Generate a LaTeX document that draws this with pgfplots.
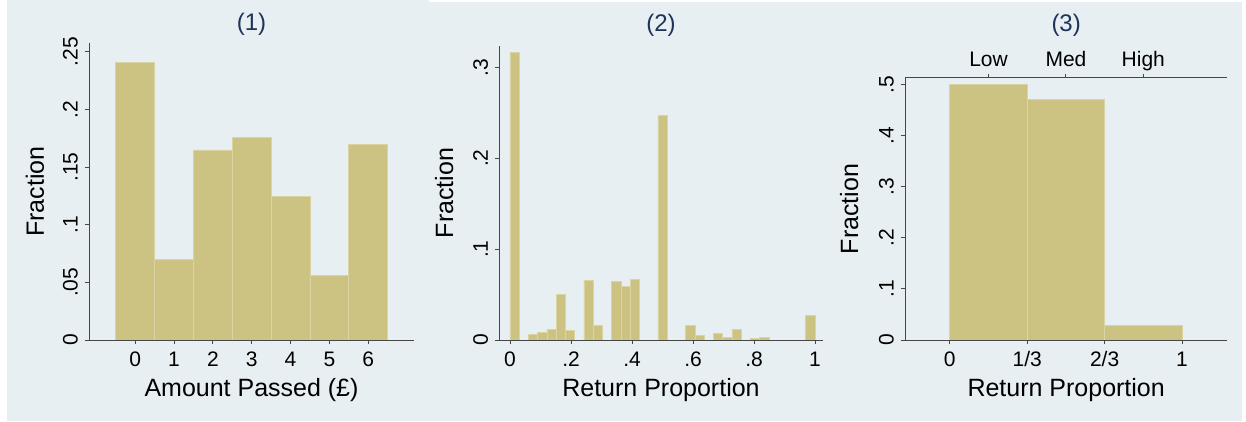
\documentclass[border=0pt]{standalone}
\usepackage{fontspec}
\setmainfont{Liberation Sans}
\usepackage{pgfplots}
\pgfplotsset{compat=1.18}
\definecolor{bgc}{RGB}{232,239,242}
\definecolor{barc}{RGB}{204,195,131}
\definecolor{baredge}{RGB}{218,211,164}
\definecolor{axisc}{RGB}{70,70,70}
\definecolor{gridc}{RGB}{234,239,241}
\definecolor{titc}{RGB}{30,52,90}

\pgfplotsset{
 layers/statalayers/.define layer set={axis background,axis grid,main,axis ticks,axis lines,axis tick labels,axis descriptions,axis foreground}{
    grid style={/pgfplots/on layer=axis grid},
    tick style={/pgfplots/on layer=axis ticks},
    axis line style={/pgfplots/on layer=axis lines},
    label style={/pgfplots/on layer=axis descriptions},
    legend style={/pgfplots/on layer=axis descriptions},
    title style={/pgfplots/on layer=axis descriptions},
    colorbar style={/pgfplots/on layer=axis descriptions},
    ticklabel style={/pgfplots/on layer=axis tick labels},
    axis background@ style={/pgfplots/on layer=axis background},
    3d box foreground style={/pgfplots/on layer=axis foreground},
 },
 stata/.style={
  set layers=statalayers,
  scale only axis,
  anchor=south west,
  axis background/.style={fill=white},
  axis x line*=bottom, axis y line*=left,
  axis line style={draw=axisc, line width=0.9bp, -},
  tick style={draw=axisc, line width=0.9bp},
  tick align=outside,
  major tick length=4bp,
  minor tick num=0,
  ymajorgrids,
  major grid style={draw=gridc, line width=0.9bp},
  ymin=0,
  ticklabel style={font=\fontsize{21bp}{25bp}\selectfont, inner sep=0pt},
  xticklabel style={anchor=base},
  yticklabel style={rotate=90, anchor=base},
  xticklabel shift=22bp,
  yticklabel shift=7.5bp,
  label style={font=\fontsize{25bp}{30bp}\selectfont},
  title style={font=\fontsize{24bp}{28bp}\selectfont, text=titc, anchor=center},
  xlabel style={anchor=center},
  ylabel style={anchor=center},
  ybar, bar shift=0pt,
 },
 bars/.style={fill=barc, draw=baredge, line width=0.7bp},
}

\begin{document}
\begin{tikzpicture}[x=1bp,y=1bp]
\fill[white] (0,0) rectangle (1246,421);
\fill[bgc] (7,0) rectangle (1242,421);
\fill[white] (429,419) rectangle (1242,421);

% Panel 1
\begin{axis}[stata, at={(89bp,81bp)}, width=325bp, height=297bp,
  xmin=-1.19, xmax=7.18, ymax=0.2576,
  xtick={0,1,2,3,4,5,6}, xticklabels={0,1,2,3,4,5,6},
  ytick={0,0.05,0.1,0.15,0.2,0.25}, yticklabels={0,.05,.1,.15,.2,.25},
  title={(1)}, title style={at={(axis description cs:0.5,1.0414)}},
  xlabel={Amount Passed (£)}, xlabel style={at={(axis description cs:0.5,-0.170)}},
  ylabel={Fraction}, ylabel style={at={(axis description cs:-0.1662,0.5)}},
  bar width=1]
\addplot[bars] coordinates {(0,0.2408) (1,0.0702) (2,0.1648) (3,0.1758) (4,0.1243) (5,0.0561) (6,0.1694)};
\end{axis}

% Panel 2
\begin{axis}[stata, at={(499.3bp,81bp)}, width=323.4bp, height=294bp,
  xmin=-0.035, xmax=1.025, ymax=0.3234,
  xtick={0,0.2,0.4,0.6,0.8,1}, xticklabels={0,.2,.4,.6,.8,1},
  ytick={0,0.1,0.2,0.3}, yticklabels={0,.1,.2,.3},
  title={(2)}, title style={at={(axis description cs:0.5,1.051)}},
  xlabel={Return Proportion}, xlabel style={at={(axis description cs:0.5,-0.1718)}},
  ylabel={Fraction}, ylabel style={at={(axis description cs:-0.1704,0.5)}},
  bar width=0.030303]
\addplot[bars] coordinates {
 (0.01515,0.3165) (0.07576,0.0062) (0.10606,0.0081) (0.13636,0.0117)
 (0.16667,0.0502) (0.19697,0.0103) (0.25758,0.0660) (0.28788,0.0165)
 (0.34848,0.0642) (0.37879,0.0594) (0.40909,0.0667) (0.50000,0.2468)
 (0.59091,0.0165) (0.62121,0.0055) (0.68182,0.0073) (0.71212,0.0026)
 (0.74242,0.0117) (0.80303,0.0022) (0.83333,0.0033) (0.98485,0.0275)};
\end{axis}

% Panel 3
\begin{axis}[stata, at={(905bp,81bp)}, width=322.3bp, height=262.3bp,
  xmin=-0.193, xmax=1.195, ymax=0.513,
  xtick={0,0.33333,0.66667,1}, xticklabels={0,1/3,2/3,1},
  ytick={0,0.1,0.2,0.3,0.4,0.5}, yticklabels={0,.1,.2,.3,.4,.5},
  title={(3)}, title style={at={(axis description cs:0.5,1.178)}},
  xlabel={Return Proportion}, xlabel style={at={(axis description cs:0.5,-0.1925)}},
  ylabel={Fraction}, ylabel style={at={(axis description cs:-0.1731,0.5)}},
  bar width=0.333333]
\addplot[bars] coordinates {(0.166667,0.5000) (0.5,0.4713) (0.833333,0.0280)};
\end{axis}
\begin{axis}[scale only axis, anchor=south west, at={(905bp,81bp)}, width=322.3bp, height=262.3bp,
  xmin=-0.193, xmax=1.195, ymin=0, ymax=1,
  axis x line*=top, axis y line=none,
  axis line style={draw=axisc, line width=0.9bp, -},
  tick style={draw=axisc, line width=0.9bp},
  tick align=outside, major tick length=4bp,
  xtick={0.166667,0.5,0.833333}, xticklabels={Low,Med,High},
  ticklabel style={font=\fontsize{21bp}{25bp}\selectfont, inner sep=0pt},
  xticklabel style={anchor=base}, xticklabel shift=7bp]
\end{axis}
\end{tikzpicture}
\end{document}
